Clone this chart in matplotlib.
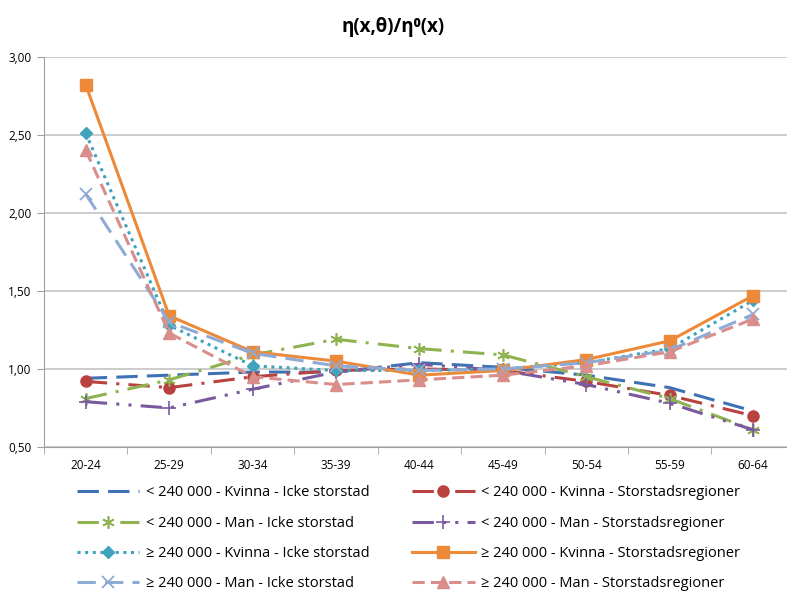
import matplotlib.pyplot as plt
import numpy as np

# categories (age groups)
ages = ['20-24', '25-29', '30-34', '35-39', '40-44', '45-49', '50-54', '55-59', '60-64']

# values
lt_kvinna_icke = [0.94, 0.96, 0.98, 0.98, 1.04, 1.01, 0.96, 0.88, 0.73]
lt_kvinna_stor = [0.92, 0.88, 0.95, 0.99, 1.00, 0.99, 0.92, 0.83, 0.70]
lt_man_icke = [0.81, 0.93, 1.09, 1.19, 1.13, 1.09, 0.95, 0.81, 0.61]
lt_man_stor = [0.79, 0.75, 0.87, 0.98, 1.03, 0.99, 0.90, 0.78, 0.61]
ge_kvinna_icke = [2.51, 1.28, 1.02, 0.99, 0.99, 1.00, 1.04, 1.13, 1.44]
ge_kvinna_stor = [2.82, 1.34, 1.11, 1.05, 0.96, 0.99, 1.06, 1.18, 1.47]
ge_man_icke = [2.12, 1.30, 1.10, 1.02, 0.99, 1.00, 1.04, 1.12, 1.35]
ge_man_stor = [2.40, 1.23, 0.95, 0.90, 0.93, 0.96, 1.02, 1.11, 1.32]

labels = [
    '< 240 000 - Kvinna - Icke storstad',
    '< 240 000 - Kvinna - Storstadsregioner',
    '< 240 000 - Man - Icke storstad',
    '< 240 000 - Man - Storstadsregioner',
    '≥ 240 000 - Kvinna - Icke storstad',
    '≥ 240 000 - Kvinna - Storstadsregioner',
    '≥ 240 000 - Man - Icke storstad',
    '≥ 240 000 - Man - Storstadsregioner',
]
series = [lt_kvinna_icke, lt_kvinna_stor, lt_man_icke, lt_man_stor,
          ge_kvinna_icke, ge_kvinna_stor, ge_man_icke, ge_man_stor]

styles = [
    dict(color='#3F72B5', ls=(0, (7, 3)), marker=None),
    dict(color='#B8423F', ls=(0, (7, 3, 1, 3)), marker='o', ms=8),
    dict(color='#8FB351', ls=(0, (7, 3, 1, 3)), marker=(6, 2, 0), ms=9, mew=1.2),
    dict(color='#7A5A9E', ls=(0, (7, 3, 1, 3, 1, 3)), marker='+', ms=10, mew=1.2),
    dict(color='#3FA3BD', ls=(0, (1, 1.5)), marker='D', ms=6),
    dict(color='#EC8A3A', ls='-', marker='s', ms=8),
    dict(color='#8EABD6', ls=(0, (6, 3)), marker='x', ms=9, mew=1.3),
    dict(color='#D98E8C', ls=(0, (4, 2)), marker='^', ms=8),
]

plt.rcParams['font.family'] = ['Open Sans', 'DejaVu Sans']

fig = plt.figure(figsize=(7.87, 5.92), dpi=100)
ax = fig.add_axes([0.056, 0.245, 0.954, 0.659])

x = np.arange(len(ages))
for vals, lab, st in zip(series, labels, styles):
    ax.plot(x, vals, label=lab, color=st['color'], linestyle=st['ls'], linewidth=2.2,
            marker=st['marker'], markersize=st.get('ms', 7), markeredgewidth=st.get('mew', 1),
            markerfacecolor=st['color'], markeredgecolor=st['color'])

ax.set_xlim(-0.5, len(ages) - 0.5)
ax.set_ylim(0.5, 3.0)
ax.set_yticks([0.5, 1.0, 1.5, 2.0, 2.5, 3.0])
ax.set_yticklabels([f'{v:.2f}'.replace('.', ',') for v in [0.5, 1.0, 1.5, 2.0, 2.5, 3.0]],
                   fontsize=8.5)
ax.set_xticks(x)
ax.set_xticklabels(ages, fontsize=8.5)
ax.set_xticks(np.arange(-0.5, len(ages), 1), minor=True)
ax.tick_params(axis='x', which='major', length=0, pad=9)
ax.tick_params(axis='x', which='minor', length=5, color='#a0a0a0')
ax.tick_params(axis='y', length=5, color='#a0a0a0', pad=4)

ax.grid(axis='y', color='#c4c4c4', linewidth=1.2)
ax.set_axisbelow(True)
for s in ['top', 'right']:
    ax.spines[s].set_visible(False)
for s in ['left', 'bottom']:
    ax.spines[s].set_color('#a0a0a0')

fig.text(0.5, 0.955, 'η(x,θ)/η⁰(x)', ha='center', va='center',
         fontsize=13.5, fontweight='bold')

handles, labs = ax.get_legend_handles_labels()
# legend is filled row-wise: left column odd entries, right column even entries
order = [0, 2, 4, 6, 1, 3, 5, 7]
fig.legend([handles[i] for i in order], [labs[i] for i in order],
           loc='upper left', bbox_to_anchor=(0.09, 0.19), ncol=2, frameon=False,
           fontsize=10.5, handlelength=4.3, columnspacing=2.9, labelspacing=1.05,
           handletextpad=0.45, borderaxespad=0)

fig.savefig('out.png', dpi=100)
